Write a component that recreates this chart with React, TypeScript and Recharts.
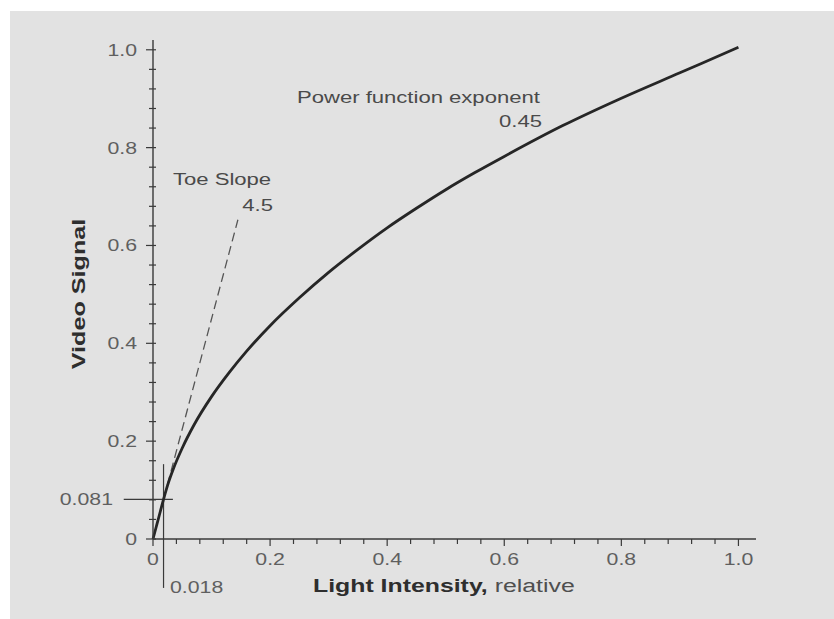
import { ComposedChart, Line, XAxis, YAxis, ReferenceLine } from "recharts";

// curve
const lightIntensity = [0, 0.005, 0.01, 0.018, 0.025, 0.035, 0.05, 0.07, 0.1, 0.13, 0.16, 0.2, 0.25, 0.3, 0.35, 0.4, 0.45, 0.5, 0.55, 0.6, 0.7, 0.8, 0.9, 1.0];
const videoSignal = [0, 0.0225, 0.045, 0.081, 0.11, 0.144, 0.186, 0.233, 0.291, 0.34, 0.384, 0.436, 0.493, 0.545, 0.592, 0.636, 0.676, 0.714, 0.749, 0.782, 0.845, 0.901, 0.953, 1.005];

// dashed toe slope line
const toeIntensity = [0, 0.145];
const toeSignal = [0, 0.6525];

// knee point markers
const kneeIntensity = 0.018;
const kneeSignal = 0.081;

const axisTicks = [0, 0.04, 0.08, 0.12, 0.16, 0.2, 0.24, 0.28, 0.32, 0.36, 0.4, 0.44, 0.48, 0.52, 0.56, 0.6, 0.64, 0.68, 0.72, 0.76, 0.8, 0.84, 0.88, 0.92, 0.96, 1.0];
const majorTicks = [0, 0.2, 0.4, 0.6, 0.8, 1.0];
const majorLabels = ["0", "0.2", "0.4", "0.6", "0.8", "1.0"];
const yTicks = [...axisTicks, kneeSignal];

const curveData = lightIntensity.map((x, i) => ({ x, v: videoSignal[i] }));
const toeData = toeIntensity.map((x, i) => ({ x, v: toeSignal[i] }));

const FONT = "'Liberation Sans', Arial, sans-serif";
const STRETCH = 1.33;
const AXIS = "#3a3a3a";
const TICK_TEXT = "#5f5f5f";

const majorIndex = (v: number) => majorTicks.findIndex((m) => Math.abs(m - v) < 1e-6);

const XTick = (props: any) => {
  const { x, y, payload } = props;
  const i = majorIndex(payload.value);
  return (
    <g>
      <line x1={x} x2={x} y1={y} y2={y + (i >= 0 ? 7 : 5)} stroke={AXIS} strokeWidth={1.2} />
      {i >= 0 && (
        <text transform={`translate(${x} ${y + 26}) scale(${STRETCH} 1)`} textAnchor="middle" fontSize={16} fontFamily={FONT} fill={TICK_TEXT}>
          {majorLabels[i]}
        </text>
      )}
    </g>
  );
};

const YTick = (props: any) => {
  const { x, y, payload } = props;
  const v = payload.value;
  if (Math.abs(v - kneeSignal) < 1e-6) {
    return (
      <text transform={`translate(${x - 40} ${y + 6}) scale(${STRETCH} 1)`} textAnchor="end" fontSize={16} fontFamily={FONT} fill={TICK_TEXT}>
        {String(kneeSignal)}
      </text>
    );
  }
  const i = majorIndex(v);
  return (
    <g>
      <line x1={x - (i >= 0 ? 7 : 4)} x2={x + 3} y1={y} y2={y} stroke={AXIS} strokeWidth={1.2} />
      {i >= 0 && (
        <text transform={`translate(${x - 16} ${y + 6}) scale(${STRETCH} 1)`} textAnchor="end" fontSize={16} fontFamily={FONT} fill={TICK_TEXT}>
          {majorLabels[i]}
        </text>
      )}
    </g>
  );
};

const Note = ({ x, y, anchor = "start", children }: any) => (
  <text transform={`translate(${x} ${y}) scale(1.38 1)`} textAnchor={anchor} fontSize={16} fontFamily={FONT} fill="#4a4a4a">
    {children}
  </text>
);

export default function App() {
  return (
    <div style={{ position: "absolute", left: 10, top: 11, width: 824, height: 608, background: "#e2e2e2" }}>
      <ComposedChart width={824} height={608} data={curveData} margin={{ top: 29, right: 78, left: 83, bottom: 50 }}>
        <XAxis
          type="number"
          dataKey="x"
          domain={[0, 1.03]}
          ticks={axisTicks}
          interval={0}
          tick={XTick}
          tickLine={false}
          tickSize={0}
          tickMargin={0}
          height={30}
          axisLine={{ stroke: AXIS, strokeWidth: 1.4 }}
        />
        <YAxis
          type="number"
          domain={[0, 1.02]}
          ticks={yTicks}
          interval={0}
          tick={YTick}
          tickLine={false}
          tickSize={0}
          tickMargin={0}
          width={60}
          axisLine={{ stroke: AXIS, strokeWidth: 1.4 }}
        />
        <ReferenceLine
          segment={[{ x: -0.05, y: kneeSignal }, { x: 0.034, y: kneeSignal }]}
          ifOverflow="visible"
          stroke={AXIS}
          strokeWidth={1.2}
        />
        <ReferenceLine
          segment={[{ x: kneeIntensity, y: -0.1 }, { x: kneeIntensity, y: 0.153 }]}
          ifOverflow="visible"
          stroke={AXIS}
          strokeWidth={1.2}
        />
        <Line data={toeData} dataKey="v" type="linear" stroke="#555" strokeWidth={1.3} strokeDasharray="9 5" dot={false} isAnimationActive={false} />
        <Line dataKey="v" type="monotone" stroke="#262626" strokeWidth={2.8} dot={false} isAnimationActive={false} />
      </ComposedChart>
      <svg width={824} height={608} style={{ position: "absolute", left: 0, top: 0, pointerEvents: "none" }}>
        <Note x={287} y={92}>Power function exponent</Note>
        <Note x={532} y={116} anchor="end">0.45</Note>
        <Note x={163} y={174}>Toe Slope</Note>
        <Note x={263} y={200} anchor="end">4.5</Note>
        <text transform={`translate(160 582) scale(${STRETCH} 1)`} fontSize={16} fontFamily={FONT} fill={TICK_TEXT}>
          0.018
        </text>
        <text transform={`translate(303 581) scale(1.38 1)`} fontSize={18} fontFamily={FONT} fill="#2e2e2e">
          <tspan fontWeight="bold">Light Intensity,</tspan>
          <tspan fill="#4f4f4f"> relative</tspan>
        </text>
        <text transform={`translate(75 283) rotate(-90) scale(1.4 1)`} textAnchor="middle" fontSize={18} fontWeight="bold" fontFamily={FONT} fill="#2e2e2e">
          Video Signal
        </text>
      </svg>
    </div>
  );
}
